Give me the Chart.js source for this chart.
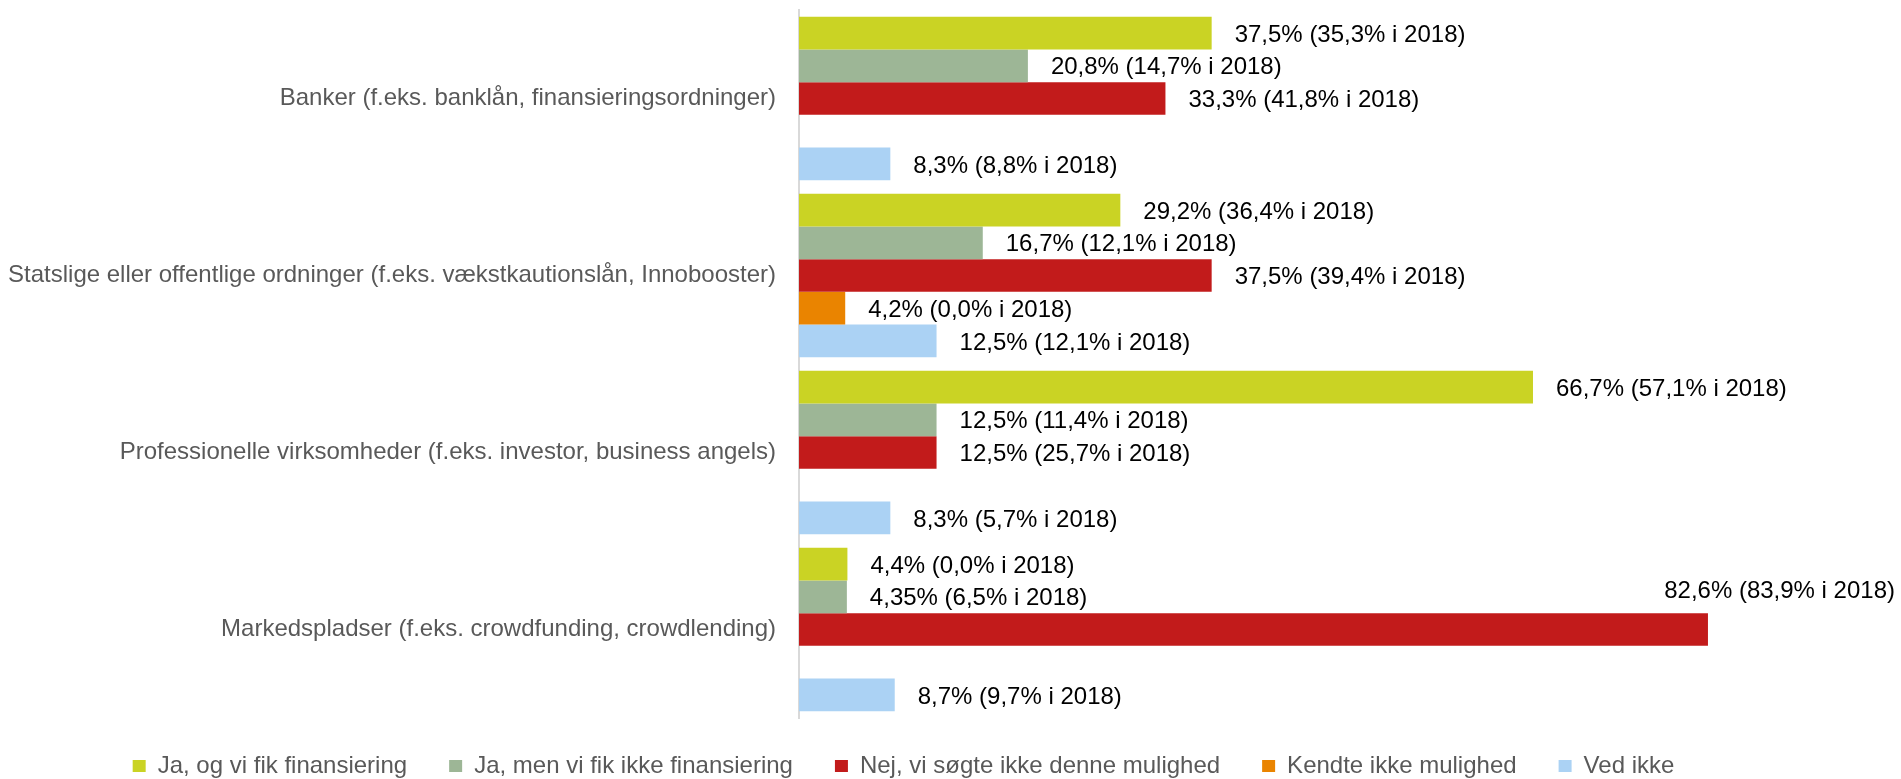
<!DOCTYPE html>
<html>
<head>
<meta charset="utf-8">
<script src="https://cdn.jsdelivr.net/npm/chart.js@4"></script>
<style>
  html, body { margin: 0; padding: 0; background: #ffffff; }
  #wrap { width: 1901px; height: 779px; position: relative; }
</style>
</head>
<body>
<div id="wrap"><canvas id="c"></canvas></div>
<script>
const categories = [
  "Banker (f.eks. banklån, finansieringsordninger)",
  "Statslige eller offentlige ordninger (f.eks. vækstkautionslån, Innobooster)",
  "Professionelle virksomheder (f.eks. investor, business angels)",
  "Markedspladser (f.eks. crowdfunding, crowdlending)"
];
const seriesNames = [
  "Ja, og vi fik finansiering",
  "Ja, men vi fik ikke finansiering",
  "Nej, vi søgte ikke denne mulighed",
  "Kendte ikke mulighed",
  "Ved ikke"
];
const jaFik        = [37.5, 29.2, 66.7, 4.4];
const jaFik2018    = [35.3, 36.4, 57.1, 0.0];
const jaIkke       = [20.8, 16.7, 12.5, 4.35];
const jaIkke2018   = [14.7, 12.1, 11.4, 6.5];
const nej          = [33.3, 37.5, 12.5, 82.6];
const nej2018      = [41.8, 39.4, 25.7, 83.9];
const kendteIkke     = [null, 4.2, null, null];
const kendteIkke2018 = [null, 0.0, null, null];
const vedIkke      = [8.3, 12.5, 8.3, 8.7];
const vedIkke2018  = [8.8, 12.1, 5.7, 9.7];

const colors = ["#CAD324", "#9DB696", "#C21B1B", "#EA8400", "#ABD2F4"];
const values = [jaFik, jaIkke, nej, kendteIkke, vedIkke];
const values2018 = [jaFik2018, jaIkke2018, nej2018, kendteIkke2018, vedIkke2018];

const FONT = "'Liberation Sans', Arial, sans-serif";

function fmt(v) {
  let s = Number.isInteger(Math.round(v * 100) / 10) ? v.toFixed(1) : String(v);
  return s.replace('.', ',');
}

const labelPlugin = {
  id: 'barLabels',
  afterDatasetsDraw(chart) {
    const ctx = chart.ctx;
    ctx.save();
    ctx.font = "24px " + FONT;
    ctx.fillStyle = "#000000";
    ctx.textBaseline = "middle";
    chart.data.datasets.forEach((ds, i) => {
      const meta = chart.getDatasetMeta(i);
      meta.data.forEach((el, j) => {
        const v = ds.data[j];
        if (v === null || v === undefined) return;
        const prev = values2018[i][j];
        const text = fmt(v) + "% (" + fmt(prev) + "% i 2018)";
        const w = ctx.measureText(text).width;
        let x = el.x + 23;
        let y = el.y + 2;
        if (x + w > chart.width - 4) {
          ctx.textAlign = "right";
          x = chart.width - 6;
          y = el.y - (el.height + 5.5);
        } else {
          ctx.textAlign = "left";
        }
        ctx.fillText(text, x, y);
      });
    });
    ctx.restore();
  }
};

const datasets = seriesNames.map((name, i) => ({
  label: name,
  data: values[i],
  backgroundColor: colors[i],
  borderWidth: 0,
  categoryPercentage: 0.925,
  barPercentage: 1.0
}));

new Chart(document.getElementById('c'), {
  type: 'bar',
  data: { labels: categories, datasets: datasets },
  plugins: [labelPlugin],
  options: {
    indexAxis: 'y',
    responsive: true,
    maintainAspectRatio: false,
    animation: false,
    layout: { padding: { left: 0, right: 94, top: 10, bottom: -9 } },
    scales: {
      x: { display: false, min: 0, max: 91.6 },
      y: {
        grid: { display: false, drawTicks: false },
        border: { display: true, color: '#D9D9D9', width: 2 },
        ticks: { font: { size: 24, family: FONT }, color: '#595959', padding: 23, autoSkip: false },
        afterFit(scale) {
          scale.width = 799;
          scale.paddingTop = 0;
          scale.paddingBottom = 0;
        }
      }
    },
    plugins: {
      tooltip: { enabled: false },
      legend: {
        position: 'bottom',
        align: 'center',
        title: { display: true, text: '', font: { size: 10 }, padding: { top: -18, bottom: 0 } },
        labels: {
          font: { size: 24, family: FONT },
          color: '#595959',
          boxWidth: 13,
          boxHeight: 12,
          padding: 42
        }
      }
    }
  }
});
</script>
</body>
</html>
